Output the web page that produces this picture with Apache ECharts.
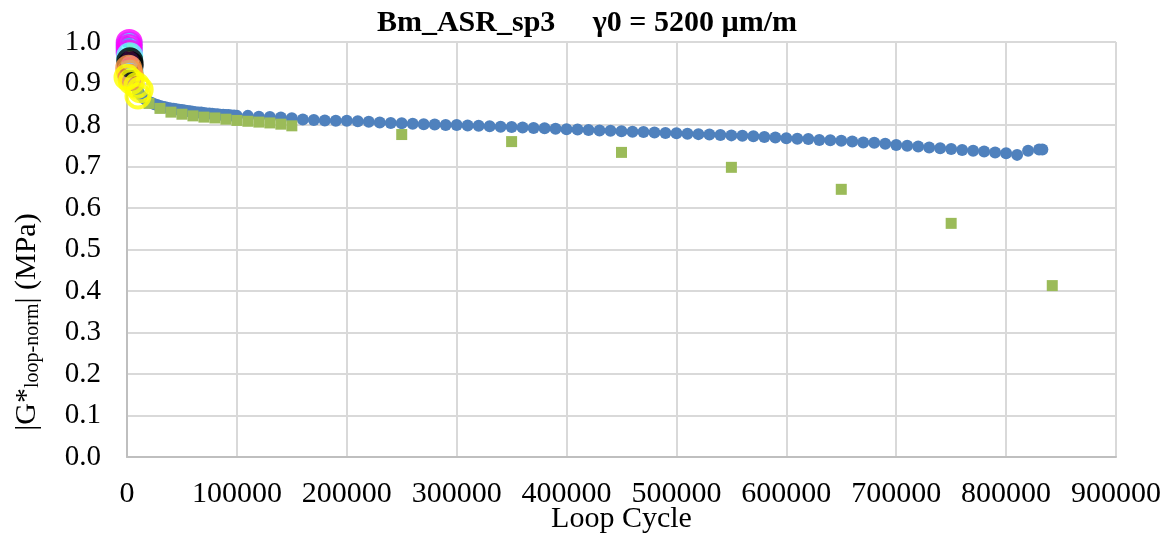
<!DOCTYPE html>
<html>
<head>
<meta charset="utf-8">
<script src="https://cdn.jsdelivr.net/npm/echarts@6/dist/echarts.min.js"></script>
<style>html,body{margin:0;padding:0;background:#fff}#c{width:1174px;height:538px}</style>
</head>
<body>
<div id="c"></div>
<script>
const titleText = 'Bm_ASR_sp3     \u03b30 = 5200 \u00b5m/m';
const xTicks = [0,100000,200000,300000,400000,500000,600000,700000,800000,900000];
const yTicks = [0.0,0.1,0.2,0.3,0.4,0.5,0.6,0.7,0.8,0.9,1.0];

// Blue series (circles): cycles and normalized modulus
const blueX = [0,2500,5000,7500,10000,12500,15000,17500,20000,22500,25000,27500,30000,32500,35000,37500,40000,42500,45000,47500,50000,52500,55000,57500,60000,62500,65000,67500,70000,72500,75000,77500,80000,82500,85000,87500,90000,92500,95000,97500,100000,
110000,120000,130000,140000,150000,160000,170000,180000,190000,200000,210000,220000,230000,240000,250000,260000,270000,280000,290000,300000,310000,320000,330000,340000,350000,360000,370000,380000,390000,400000,410000,420000,430000,440000,450000,460000,470000,480000,490000,500000,510000,520000,530000,540000,550000,560000,570000,580000,590000,600000,610000,620000,630000,640000,650000,660000,670000,680000,690000,700000,710000,720000,730000,740000,750000,760000,770000,780000,790000,800000,810000,820000,830000,833000];
const blueY = [1.0,0.95,0.92,0.895,0.88,0.872,0.865,0.86,0.856,0.853,0.85,0.848,0.846,0.844,0.843,0.841,0.84,0.839,0.838,0.837,0.836,0.835,0.834,0.833,0.832,0.831,0.83,0.83,0.829,0.828,0.828,0.827,0.826,0.826,0.825,0.825,0.824,0.824,0.823,0.823,0.822,
0.822,0.820,0.819,0.818,0.816,0.813,0.812,0.811,0.810,0.810,0.809,0.808,0.806,0.805,0.804,0.803,0.802,0.801,0.800,0.800,0.799,0.798,0.797,0.796,0.795,0.794,0.793,0.792,0.791,0.790,0.789,0.788,0.787,0.786,0.785,0.784,0.783,0.782,0.781,0.780,0.779,0.778,0.777,0.776,0.775,0.774,0.773,0.771,0.770,0.768,0.767,0.766,0.764,0.763,0.762,0.760,0.758,0.757,0.755,0.752,0.750,0.748,0.746,0.744,0.742,0.740,0.738,0.736,0.734,0.732,0.728,0.738,0.741,0.741];

// Green series (squares)
const greenX = [5000,5000,5000,5000,5000,5000,10000,20000,30000,40000,50000,60000,70000,80000,90000,100000,110000,120000,130000,140000,150000,250000,350000,450000,550000,650000,750000,842000];
const greenY = [0.99,0.97,0.95,0.93,0.91,0.895,0.88,0.852,0.84,0.831,0.826,0.822,0.819,0.817,0.814,0.811,0.809,0.807,0.805,0.802,0.798,0.777,0.760,0.734,0.698,0.645,0.563,0.413];

// Early-cycle ring series
const cyanX = [2000,2000,2000,2500];
const cyanY = [1.005,0.993,0.98,0.935];
const magentaX = [2000,2000,2000];
const magentaY = [0.999,0.987,0.974];
const lightCyanX = [2500,2500,3000];
const lightCyanY = [0.967,0.957,0.925];
const blackX = [2500,3000];
const blackY = [0.955,0.945];
const orangeX = [1500,2500,3500];
const orangeY = [0.937,0.927,0.915];
const yellowX = [0,4000,9000,12000,10000];
const yellowY = [0.915,0.905,0.895,0.885,0.87];

function pairs(xs, ys){ return xs.map((x,i)=>[x, ys[i]]); }
const serif = 'Liberation Serif';

function ring(name, color, xs, ys){
  return {name, type:'scatter', data: pairs(xs,ys), symbol:'circle', symbolSize:23,
    itemStyle:{color:'rgba(0,0,0,0)', borderColor:color, borderWidth:4}, z:3};
}

const chart = echarts.init(document.getElementById('c'));
chart.setOption({
  animation:false,
  backgroundColor:'#fff',
  title:{text:titleText, left:'center', top:3,
    textStyle:{fontFamily:serif, fontWeight:'bold', fontSize:30, color:'#000'}},
  grid:{left:127, right:58, top:42, bottom:81, outerBoundsMode:'none', containLabel:false},
  xAxis:{type:'value', min:0, max:900000, interval:100000,
    name:'Loop Cycle', nameLocation:'middle', nameGap:47, nameMoveOverlap:false,
    nameTextStyle:{fontFamily:serif, fontSize:30, color:'#000'},
    axisLine:{show:true, lineStyle:{color:'#BFBFBF', width:2}},
    axisTick:{show:false},
    axisLabel:{fontFamily:serif, fontSize:30, color:'#000', margin:22,
      formatter:v=>String(v)},
    splitLine:{show:true, lineStyle:{color:'#D9D9D9', width:2}}},
  yAxis:{type:'value', min:0, max:1, interval:0.1,
    axisLine:{show:true, lineStyle:{color:'#BFBFBF', width:2}},
    axisTick:{show:false},
    axisLabel:{fontFamily:serif, fontSize:29, color:'#000', margin:26,
      formatter:v=>v.toFixed(1)},
    splitLine:{show:true, lineStyle:{color:'#D9D9D9', width:2}}},
  graphic:[{type:'text', x:27, y:322, rotation:Math.PI/2,
    style:{text:'{a||G*}{s|loop-norm}{a|| (MPa)}', align:'center', verticalAlign:'middle',
      rich:{a:{fontFamily:serif, fontSize:30, fill:'#000', color:'#000', lineHeight:32, verticalAlign:'middle'},
            s:{fontFamily:serif, fontSize:20, fill:'#000', color:'#000', lineHeight:12, verticalAlign:'bottom'}}}}],
  series:[
    {name:'blue', type:'scatter', data:pairs(blueX, blueY), symbol:'circle', symbolSize:12,
      itemStyle:{color:'#4F81BD', opacity:1}, z:2},
    {name:'green', type:'scatter', data:pairs(greenX, greenY), symbol:'rect', symbolSize:11,
      itemStyle:{color:'#9BBB59', opacity:1}, z:2},
    ring('cyan', '#33CCFF', cyanX, cyanY),
    ring('magenta', '#FF00FF', magentaX, magentaY),
    ring('lightcyan', '#66FFFF', lightCyanX, lightCyanY),
    ring('black', '#000000', blackX, blackY),
    ring('orange', '#F79646', orangeX, orangeY),
    ring('yellow', '#FFFF00', yellowX, yellowY)
  ]
});
</script>
</body>
</html>
